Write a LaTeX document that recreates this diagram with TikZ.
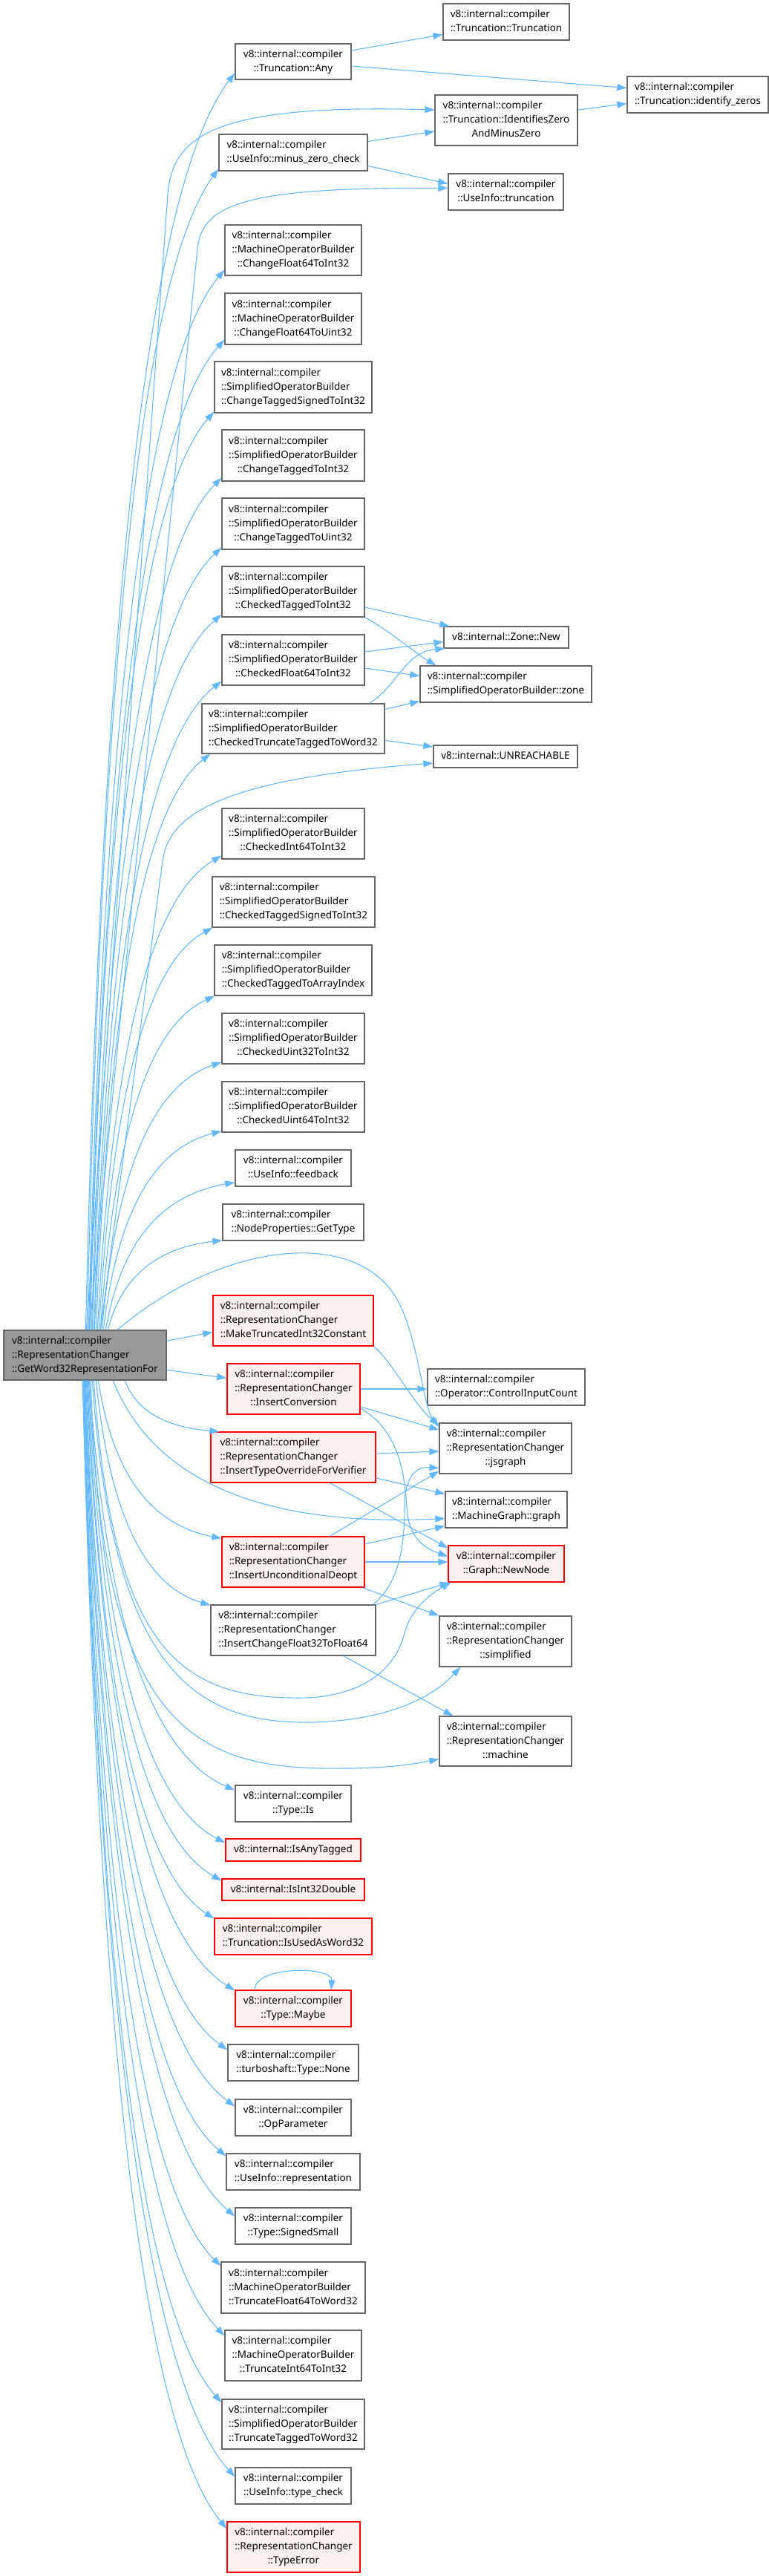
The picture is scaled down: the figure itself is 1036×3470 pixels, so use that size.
\documentclass[tikz,border=0pt]{standalone}
\usepackage{fontspec}
\newfontfamily\nfam{Noto Sans}
\usetikzlibrary{calc,arrows.meta}
\definecolor{edgec}{HTML}{63B8FF}
\definecolor{bord}{HTML}{666666}
\definecolor{redfill}{HTML}{FFF0F0}
\definecolor{mainfill}{HTML}{999999}
\newcommand\nfont{\nfam\fontsize{13.5}{19}\selectfont}
\newcommand\vic{v8::internal::compiler}
\newcommand\tb[1]{\begin{tabular}{@{}l@{}}#1\end{tabular}}
\newcommand\lastl[1]{\multicolumn{1}{@{}c@{}}{#1}}
\newcommand\nb[7]{\node[#2, minimum width={(#5-#3)*1pt}, minimum height={(#6-#4)*1pt}] (#1) at ({(#3+#5)/2},{(#4+#6)/2}) {\tb{#7}};}
\newcommand\fan[2]{\draw[edge] let \p1=(#1), \p2=(#2) in (\p1) .. controls ({\x1+0.1*(\x2-\x1)},{\y1+0.5*(\y2-\y1)}) and ({\x2-0.65*(\x2-\x1)},{\y2-0.1*(\y2-\y1)}) .. (\p2);}
\tikzset{
  nbox/.style={draw=bord, line width=1.3pt, fill=white, inner sep=0pt, font=\nfont},
  rbox/.style={nbox, draw=red, fill=redfill},
  mbox/.style={nbox, fill=mainfill},
  edge/.style={draw=edgec, line width=1.1pt, -{Triangle[length=13pt,width=9pt,fill=edgec]}}
}
\begin{document}
\begin{tikzpicture}[x=1pt,y=-1pt]
\useasboundingbox (0,0) rectangle (1036,3470);
% main
\nb{M}{mbox}{5}{1792}{224}{1859}{\vic\\::RepresentationChanger\\\lastl{::GetWord32RepresentationFor}}
% column 1
\nb{a1}{nbox}{317}{59}{473}{107}{\vic\\\lastl{::Truncation::Any}}
\nb{a2}{nbox}{295}{181}{495}{230}{\vic\\\lastl{::UseInfo::minus\_zero\_check}}
\nb{a3}{nbox}{303}{303}{487}{371}{\vic\\::MachineOperatorBuilder\\\lastl{::ChangeFloat64ToInt32}}
\nb{a4}{nbox}{303}{395}{487}{464}{\vic\\::MachineOperatorBuilder\\\lastl{::ChangeFloat64ToUint32}}
\nb{a5}{nbox}{289}{487}{501}{556}{\vic\\::SimplifiedOperatorBuilder\\\lastl{::ChangeTaggedSignedToInt32}}
\nb{a6}{nbox}{299}{579}{491}{648}{\vic\\::SimplifiedOperatorBuilder\\\lastl{::ChangeTaggedToInt32}}
\nb{a7}{nbox}{299}{671}{491}{740}{\vic\\::SimplifiedOperatorBuilder\\\lastl{::ChangeTaggedToUint32}}
\nb{a8}{nbox}{299}{763}{491}{831}{\vic\\::SimplifiedOperatorBuilder\\\lastl{::CheckedTaggedToInt32}}
\nb{a9}{nbox}{299}{855}{491}{923}{\vic\\::SimplifiedOperatorBuilder\\\lastl{::CheckedFloat64ToInt32}}
\nb{a10}{nbox}{272}{948}{518}{1015}{\vic\\::SimplifiedOperatorBuilder\\\lastl{::CheckedTruncateTaggedToWord32}}
\nb{a11}{nbox}{299}{1089}{491}{1157}{\vic\\::SimplifiedOperatorBuilder\\\lastl{::CheckedInt64ToInt32}}
\nb{a12}{nbox}{286}{1181}{505}{1249}{\vic\\::SimplifiedOperatorBuilder\\\lastl{::CheckedTaggedSignedToInt32}}
\nb{a13}{nbox}{289}{1273}{501}{1341}{\vic\\::SimplifiedOperatorBuilder\\\lastl{::CheckedTaggedToArrayIndex}}
\nb{a14}{nbox}{299}{1365}{491}{1433}{\vic\\::SimplifiedOperatorBuilder\\\lastl{::CheckedUint32ToInt32}}
\nb{a15}{nbox}{299}{1457}{491}{1525}{\vic\\::SimplifiedOperatorBuilder\\\lastl{::CheckedUint64ToInt32}}
\nb{a16}{nbox}{317}{1549}{473}{1598}{\vic\\\lastl{::UseInfo::feedback}}
\nb{a17}{nbox}{300}{1622}{490}{1671}{\vic\\\lastl{::NodeProperties::GetType}}
\nb{a18}{rbox}{287}{1745}{503}{1813}{\vic\\::RepresentationChanger\\\lastl{::MakeTruncatedInt32Constant}}
\nb{a19}{rbox}{306}{1837}{485}{1905}{\vic\\::RepresentationChanger\\\lastl{::InsertConversion}}
\nb{a20}{rbox}{284}{1929}{506}{1997}{\vic\\::RepresentationChanger\\\lastl{::InsertTypeOverrideForVerifier}}
\nb{a21}{rbox}{299}{2070}{491}{2138}{\vic\\::RepresentationChanger\\\lastl{::InsertUnconditionalDeopt}}
\nb{a22}{nbox}{284}{2162}{506}{2230}{\vic\\::RepresentationChanger\\\lastl{::InsertChangeFloat32ToFloat64}}
\nb{a23}{nbox}{317}{2405}{473}{2454}{\vic\\\lastl{::Type::Is}}
\nb{a24}{rbox}{304}{2477}{486}{2507}{\lastl{v8::internal::IsAnyTagged}}
\nb{a25}{rbox}{299}{2531}{491}{2560}{\lastl{v8::internal::IsInt32Double}}
\nb{a26}{rbox}{289}{2584}{501}{2633}{\vic\\\lastl{::Truncation::IsUsedAsWord32}}
\nb{a27}{rbox}{317}{2681}{473}{2730}{\vic\\\lastl{::Type::Maybe}}
\nb{a28}{nbox}{307}{2754}{483}{2803}{\vic\\\lastl{::turboshaft::Type::None}}
\nb{a29}{nbox}{317}{2828}{473}{2877}{\vic\\\lastl{::OpParameter}}
\nb{a30}{nbox}{305}{2901}{485}{2950}{\vic\\\lastl{::UseInfo::representation}}
\nb{a31}{nbox}{317}{2974}{473}{3023}{\vic\\\lastl{::Type::SignedSmall}}
\nb{a32}{nbox}{298}{3047}{492}{3116}{\vic\\::MachineOperatorBuilder\\\lastl{::TruncateFloat64ToWord32}}
\nb{a33}{nbox}{303}{3139}{487}{3207}{\vic\\::MachineOperatorBuilder\\\lastl{::TruncateInt64ToInt32}}
\nb{a34}{nbox}{299}{3232}{491}{3299}{\vic\\::SimplifiedOperatorBuilder\\\lastl{::TruncateTaggedToWord32}}
\nb{a35}{nbox}{317}{3324}{473}{3373}{\vic\\\lastl{::UseInfo::type\_check}}
\nb{a36}{rbox}{306}{3397}{485}{3465}{\vic\\::RepresentationChanger\\\lastl{::TypeError}}
% column 2
\nb{b1}{nbox}{597}{5}{767}{54}{\vic\\\lastl{::Truncation::Truncation}}
\nb{b2}{nbox}{845}{103}{1035}{152}{\vic\\\lastl{::Truncation::identify\_zeros}}
\nb{b3}{nbox}{586}{128}{778}{196}{\vic\\::Truncation::IdentifiesZero\\\lastl{AndMinusZero}}
\nb{b4}{nbox}{604}{234}{759}{283}{\vic\\\lastl{::UseInfo::truncation}}
\nb{b5}{nbox}{598}{844}{766}{873}{\lastl{v8::internal::Zone::New}}
\nb{b6}{nbox}{566}{897}{797}{946}{\vic\\\lastl{::SimplifiedOperatorBuilder::zone}}
\nb{b7}{nbox}{584}{1004}{778}{1034}{\lastl{v8::internal::UNREACHABLE}}
\nb{b8}{nbox}{576}{1844}{788}{1893}{\vic\\\lastl{::Operator::ControlInputCount}}
\nb{b9}{nbox}{592}{1917}{770}{1985}{\vic\\::RepresentationChanger\\\lastl{::jsgraph}}
\nb{b10}{nbox}{600}{2009}{764}{2058}{\vic\\\lastl{::MachineGraph::graph}}
\nb{b11}{rbox}{604}{2082}{760}{2131}{\vic\\\lastl{::Graph::NewNode}}
\nb{b12}{nbox}{592}{2177}{770}{2245}{\vic\\::RepresentationChanger\\\lastl{::simplified}}
\nb{b13}{nbox}{592}{2312}{770}{2379}{\vic\\::RepresentationChanger\\\lastl{::machine}}
% ---- edges from main, upward fan
\fan{[xshift=111pt]M.north west}{[yshift=9pt]a1.south west}
\fan{[xshift=113pt]M.north west}{[yshift=3pt]a2.south west}
\fan{[xshift=115pt]M.north west}{[yshift=8pt]a3.south west}
\fan{[xshift=116pt]M.north west}{[yshift=7pt]a4.south west}
\fan{[xshift=117pt]M.north west}{[yshift=2pt]a5.south west}
\fan{[xshift=119pt]M.north west}{[yshift=5pt]a6.south west}
\fan{[xshift=120pt]M.north west}{[yshift=3pt]a7.south west}
\fan{[xshift=122pt]M.north west}{[yshift=4pt]a8.south west}
\fan{[xshift=123pt]M.north west}{[yshift=6pt]a9.south west}
\fan{[xshift=125pt]M.north west}{[xshift=12pt]a10.south west}
\fan{[xshift=127pt]M.north west}{[yshift=5pt]a11.south west}
\fan{[xshift=129pt]M.north west}{[xshift=1pt]a12.south west}
\fan{[xshift=131pt]M.north west}{[xshift=1pt]a13.south west}
\fan{[xshift=133pt]M.north west}{[yshift=3pt]a14.south west}
\fan{[xshift=135pt]M.north west}{[yshift=2pt]a15.south west}
\fan{[xshift=138pt]M.north west}{[yshift=6pt]a16.south west}
\fan{[xshift=141pt]M.north west}{[yshift=1pt]a17.south west}
\draw[edge] ([yshift=-15pt]M.north east) -- ([yshift=-50pt]a18.north west);
\draw[edge] ([yshift=-54pt]M.north east) -- ([yshift=-20pt]a19.north west);
% special upward curves
\draw[edge] ([xshift=112pt]M.north west) -- (226,262) .. controls (232,182) and (290,140) .. ([yshift=14pt]b3.west);
\draw[edge] ([xshift=116pt]M.north west) -- (266,335) .. controls (272,275) and (330,252) .. ([yshift=5pt]b4.west);
\draw[edge] ([xshift=131pt]M.north west) -- (219,1160) .. controls (227,1100) and (290,1050) .. ([yshift=-9pt]b7.west);
\draw[edge] ([xshift=154pt]M.north west) .. controls (300,1670) and (490,1650) .. (540,1760) .. controls (565,1815) and (570,1895) .. ([yshift=29pt]b9.west);
% ---- edges from main, downward fan
\fan{[xshift=164pt]M.south west}{[xshift=12pt]a20.north west}
\fan{[xshift=128pt]M.south west}{[yshift=-3pt]a21.north west}
\fan{[xshift=125pt]M.south west}{[yshift=-1pt]a22.north west}
\fan{[xshift=116pt]M.south west}{[yshift=-7pt]a23.north west}
\fan{[xshift=115pt]M.south west}{[yshift=-6pt]a24.north west}
\fan{[xshift=114pt]M.south west}{[yshift=-3pt]a25.north west}
\fan{[xshift=113pt]M.south west}{[yshift=-1pt]a26.north west}
\fan{[xshift=112pt]M.south west}{[yshift=-1pt]a27.north west}
\fan{[xshift=111pt]M.south west}{[yshift=-8pt]a28.north west}
\fan{[xshift=110pt]M.south west}{[yshift=-10pt]a29.north west}
\fan{[xshift=110pt]M.south west}{[yshift=-4pt]a30.north west}
\fan{[xshift=109pt]M.south west}{[yshift=-12pt]a31.north west}
\fan{[xshift=109pt]M.south west}{[yshift=-6pt]a32.north west}
\fan{[xshift=108pt]M.south west}{[yshift=-8pt]a33.north west}
\fan{[xshift=108pt]M.south west}{[yshift=-5pt]a34.north west}
\fan{[xshift=107pt]M.south west}{[yshift=-13pt]a35.north west}
\fan{[xshift=107pt]M.south west}{[yshift=-10pt]a36.north west}
% special downward curves
\draw[edge] ([xshift=148pt]M.south west) .. controls (200,1980) and (330,2058) .. ([yshift=-12pt]b10.west);
\draw[edge] ([xshift=122pt]M.south west) .. controls (150,2200) and (230,2285) .. (392,2287) .. controls (470,2290) and (530,2260) .. (545,2200) .. controls (553,2170) and (575,2150) .. ([xshift=4pt]b11.south west);
\draw[edge] ([xshift=120pt]M.south west) .. controls (150,2230) and (250,2318) .. (405,2320) .. controls (490,2321) and (570,2300) .. ([xshift=29pt]b12.south west);
\draw[edge] ([xshift=118pt]M.south west) .. controls (135,2340) and (270,2385) .. (465,2382) .. controls (520,2382) and (560,2376) .. ([yshift=-24pt]b13.west);
% ---- top cluster
\draw[edge] ([yshift=15pt]a1.east) -- ([yshift=-17pt]b1.west);
\draw[edge] ([yshift=-6pt]a1.east) -- ([yshift=9pt]b2.west);
\draw[edge] ([yshift=14pt]b3.east) -- ([yshift=-12pt]b2.west);
\draw[edge] ([yshift=15pt]a2.east) -- ([yshift=-15pt]b3.west);
\draw[edge] ([yshift=-18pt]a2.east) -- ([yshift=11pt]b4.west);
% ---- middle cluster
\draw[edge] ([yshift=-21pt]a8.east) -- ([xshift=8pt]b5.north west);
\draw[edge] (a8.south east) .. controls (525,850) and (560,880) .. ([xshift=22pt]b6.north west);
\draw[edge] ([yshift=11pt]a9.east) -- ([yshift=-6pt]b5.west);
\draw[edge] ([yshift=-11pt]a9.east) -- ([yshift=11pt]b6.west);
\draw[edge] ([xshift=226pt]a10.north west) .. controls (535,925) and (545,878) .. ([xshift=2pt]b5.south west);
\draw[edge] ([yshift=26pt]a10.east) -- ([yshift=2pt]b6.south west);
\draw[edge] ([yshift=-16pt]a10.east) -- ([yshift=13pt]b7.west);
% ---- lower cluster
\draw[edge] (a18.south east) .. controls (525,1830) and (560,1895) .. ([yshift=-3pt]b9.north west);
\draw[edge] (a19.east) -- (a19.east -| b8.west);
\draw[edge] ([yshift=-24pt]a19.east) -- ([yshift=25pt]b9.west);
\draw[edge] ([yshift=-26pt]a19.east) .. controls (535,1925) and (545,1980) .. (548,2030) .. controls (550,2070) and (570,2085) .. ([yshift=10pt]b11.west);
\draw[edge] ([yshift=5pt]a20.east) -- ([yshift=-4pt]b9.west);
\draw[edge] ([yshift=-28pt]a20.east) -- ([yshift=-4pt]b10.north west);
\draw[edge] ([xshift=161pt]a20.south west) -- ([yshift=-4pt]b11.north west);
\draw[edge] ([xshift=146pt]a21.north west) -- ([yshift=4pt]b9.south west);
\draw[edge] ([yshift=24pt]a21.east) -- ([yshift=3pt]b10.south west);
\draw[edge] (a21.east) -- (a21.east -| b11.west);
\draw[edge] ([xshift=-3pt]a21.south east) -- (b12.north west);
\draw[edge] (a22.north east) -- ([xshift=2pt]b11.south west);
\draw[edge] ([xshift=-4pt]a22.north east) .. controls (535,2135) and (545,2090) .. (545,2030) .. controls (545,1990) and (560,1975) .. ([yshift=8pt]b9.south west);
\draw[edge] ([xshift=-44pt]a22.south east) -- ([xshift=19pt]b13.north west);
% self loop
\draw[edge] ([xshift=27pt]a27.north west) .. controls (342,2648) and (448,2648) .. ([xshift=130pt]a27.north west);
\end{tikzpicture}
\end{document}
